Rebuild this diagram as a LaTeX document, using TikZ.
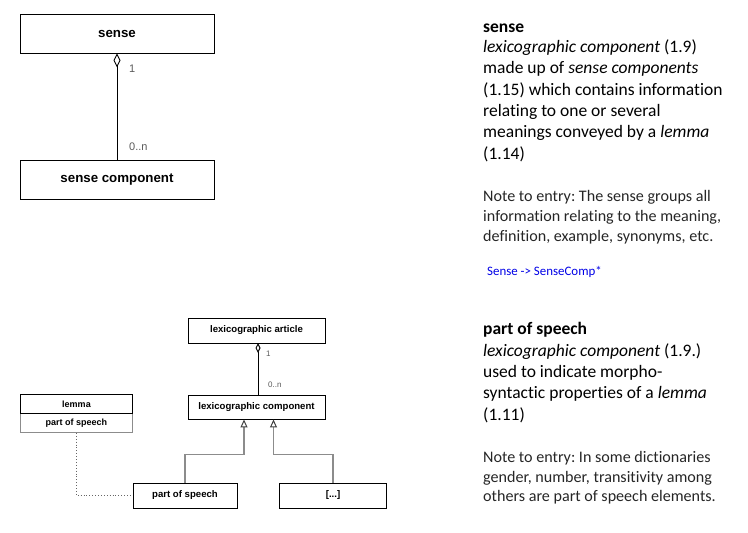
\documentclass[tikz,border=0pt]{standalone}
\usepackage{fontspec}
\setmainfont{Carlito}[Ligatures=NoCommon]
\newfontfamily\diafont{Liberation Sans}
\usetikzlibrary{arrows.meta}
\definecolor{linkblue}{RGB}{0,0,230}
\definecolor{lblgray}{RGB}{90,90,90}
\definecolor{gengray}{RGB}{140,140,140}
\definecolor{notegray}{RGB}{38,38,38}
\frenchspacing
\begin{document}
\begin{tikzpicture}[x=1pt,y=-1pt,
  box/.style={draw=black,line width=0.9pt,minimum width=#1,inner sep=0pt,font=\diafont\bfseries},
  bigbox/.style={box=194pt,minimum height=39pt,font=\diafont\bfseries\fontsize{13.3}{15}\selectfont},
  smallbox/.style={box=#1,minimum height=25pt,font=\diafont\bfseries\fontsize{9.6}{11}\selectfont},
  mult/.style={text=lblgray,font=\diafont\fontsize{#1}{#1}\selectfont,inner sep=0pt,anchor=base west},
  aggr/.style={line width=0.9pt,-{Diamond[open,length=#1,width=0.5*#1,line width=0.9pt]}},
  gen/.style={draw=gengray,line width=1.4pt,-{Triangle[open,length=8pt,width=7pt,line width=1pt,color=black!75]}},
  tx/.style={anchor=base west,inner sep=0pt,font=\fontsize{17.5}{21}\selectfont},
  nt/.style={anchor=base west,inner sep=0pt,text=notegray,font=\fontsize{16.1}{19}\selectfont},
]
\useasboundingbox (0,0) rectangle (748,533);

% ---------- top diagram ----------
\node[bigbox] (sense) at (117,33.5) {sense};
\node[bigbox] (scomp) at (117,179.5) {sense component};
\draw[aggr=14pt] (scomp.north) -- (sense.south);
\node[mult=11] (m1) at (129,72) {1};
\node[mult=11] (m2) at (129,150) {0..n};

% ---------- top text ----------
\node[tx] (t1) at (483,32) {\textbf{sense}};
\node[tx] (t2) at (483,52.5) {\textit{lexicographic component} (1.9)};
\node[tx] (t3) at (483,73.5) {made up of \textit{sense components}};
\node[tx] (t4) at (483,95) {(1.15) which contains information};
\node[tx] (t5) at (483,116) {relating to one or several};
\node[tx] (t6) at (483,137.5) {meanings conveyed by a \textit{lemma}};
\node[tx] (t7) at (483,159) {(1.14)};
\node[nt] (n1) at (483,201) {Note to entry: The sense groups all};
\node[nt] (n2) at (483,221) {information relating to the meaning,};
\node[nt] (n3) at (483,241) {definition, example, synonyms, etc.};
\node[anchor=base west,inner sep=0pt,text=linkblue,font=\fontsize{12.9}{14}\selectfont] (code) at (487,275) {Sense -> SenseComp*};

% ---------- bottom diagram ----------
\node[smallbox=137pt] (la) at (256.5,330.5) {lexicographic article};
\node[smallbox=137pt,minimum height=24pt] (lc) at (256.5,407) {lexicographic component};
\coordinate (lctop) at (258,395);
\coordinate (labot) at (258,343);
\draw[aggr=10pt] (lctop) -- (labot);
\node[mult=8] (m3) at (266,356) {1};
\node[mult=8] (m4) at (268,387) {0..n};

\node[box=112pt,draw=gengray,minimum height=19pt,font=\diafont\bfseries\fontsize{9}{10}\selectfont] (lemmapos) at (76.5,423) {part of speech};
\node[box=112pt,minimum height=19pt,font=\diafont\bfseries\fontsize{9}{10}\selectfont] (lemma) at (76.5,404) {lemma};

\node[smallbox=104pt] (pos) at (185,495.5) {part of speech};
\node[smallbox=107pt] (etc) at (333,495.5) {[...]};

\coordinate (g1) at (244,454.5);
\coordinate (g2) at (273.5,454.5);
\draw[gen] (pos.north) |- (g1) -- (g1 |- lc.south);
\draw[gen] (etc.north) |- (g2) -- (g2 |- lc.south);

\draw[dotted,line width=0.9pt,draw=black!60] (lemmapos.south) |- (pos.west);

% ---------- bottom text ----------
\node[tx] (b1) at (483,334.5) {\textbf{part of speech}};
\node[tx] (b2) at (483,356) {\textit{lexicographic component} (1.9.)};
\node[tx] (b3) at (483,377.5) {used to indicate morpho-};
\node[tx] (b4) at (483,398.5) {syntactic properties of a \textit{lemma}};
\node[tx] (b5) at (483,420) {(1.11)};
\node[nt] (b6) at (483,462) {Note to entry: In some dictionaries};
\node[nt] (b7) at (483,482) {gender, number, transitivity among};
\node[nt] (b8) at (483,501.5) {others are part of speech elements.};
\end{tikzpicture}
\end{document}
